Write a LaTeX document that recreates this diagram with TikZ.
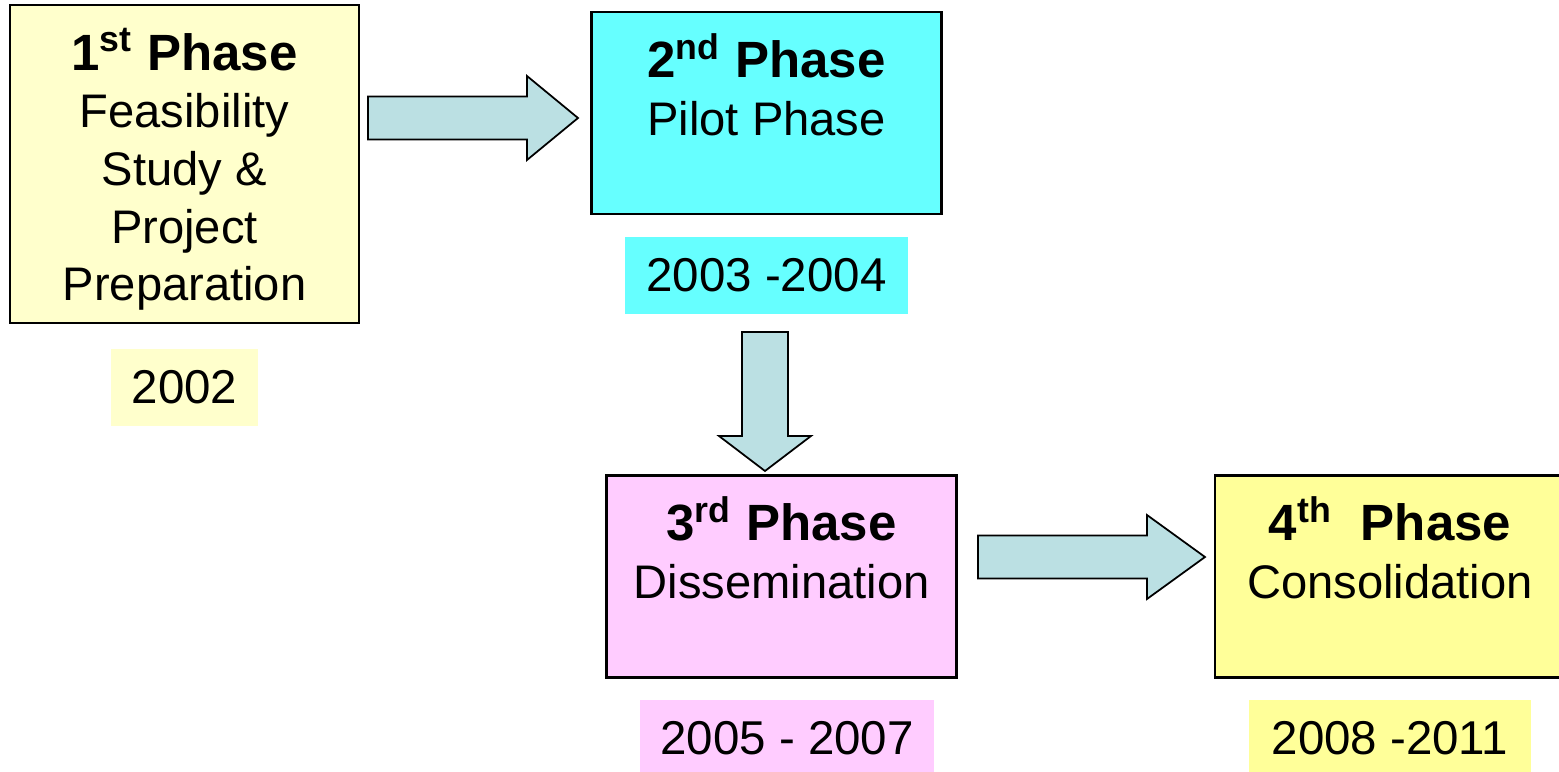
\documentclass[tikz,border=0pt]{standalone}
\usepackage{fontspec}
\setmainfont{Liberation Sans}
\usetikzlibrary{positioning,calc}
\definecolor{paleyellow}{HTML}{FFFFCC}
\definecolor{aqua}{HTML}{66FFFF}
\definecolor{phasepink}{HTML}{FFCCFF}
\definecolor{lemon}{HTML}{FFFF99}
\definecolor{arrowblue}{HTML}{BBE0E3}
\newcommand{\phasefont}{\fontsize{14.5}{16.4}\selectfont\bfseries}
\tikzset{
    phase/.style={
           rectangle,
           draw=black, line width=0.7pt,
           minimum width=3.5cm,
           minimum height=2.02cm,
           align=center,
           inner sep=0pt,
           font=\fontsize{13.4}{16.4}\selectfont
           },
    years/.style={
           rectangle,
           minimum height=0.77cm,
           inner sep=0pt,
           font=\fontsize{13.5}{16}\selectfont
           },
    fatarrow/.style={
           draw=black, line width=0.5pt,
           fill=arrowblue,
           line join=miter
           }
}
\begin{document}
\begin{tikzpicture}[x=0.01cm, y=-0.01cm]
   \useasboundingbox (0,0) rectangle (1559,772);
   % phases
   \node[phase, fill=paleyellow, minimum width=3.49cm, minimum height=3.18cm] (p1) at (184.5,164)
        {{\phasefont\rule{0pt}{15pt}1\textsuperscript{st} Phase}\\ Feasibility\\ Study \&\\ Project\\ Preparation};
   \node[phase, fill=aqua]       (p2) at (766.5,113)
        {{\phasefont 2\textsuperscript{nd} Phase}\\ Pilot Phase\\ \mbox{}};
   \node[phase, fill=phasepink]  (p3) at (781.5,576.5)
        {{\phasefont 3\textsuperscript{rd} Phase}\\ Dissemination\\ \mbox{}};
   \node[phase, fill=lemon]      (p4) at (1390,576.5)
        {{\phasefont 4\textsuperscript{th}\ \ Phase}\\ Consolidation\\ \mbox{}};
   % years
   \node[years, fill=paleyellow, minimum width=1.46cm, below=0.24cm of p1] (y1) {2002};
   \node[years, fill=aqua,       minimum width=2.82cm, below=0.21cm of p2] (y2) {2003 -2004};
   \node[years, fill=phasepink,  minimum width=2.94cm, below=0.2cm of p3, xshift=0.055cm] (y3) {2005 - 2007};
   \node[years, fill=lemon,      minimum width=2.82cm, below=0.2cm of p4] (y4) {2008 -2011};
   % block arrows
   \coordinate (a1s) at (368,118);
   \coordinate (a1e) at (578,118);
   \coordinate (a2s) at (765,332);
   \coordinate (a2e) at (765,471);
   \coordinate (a3s) at (978,557);
   \coordinate (a3e) at (1205,557);
   \draw[fatarrow] ($(a1s)+(0,-21.5)$) -- ($(a1e)+(-51,-21.5)$) -- ($(a1e)+(-51,-42)$) -- (a1e)
        -- ($(a1e)+(-51,42)$) -- ($(a1e)+(-51,21.5)$) -- ($(a1s)+(0,21.5)$) -- cycle;
   \draw[fatarrow] ($(a2s)+(-23,0)$) -- ($(a2e)+(-23,-35)$) -- ($(a2e)+(-46,-35)$) -- (a2e)
        -- ($(a2e)+(46,-35)$) -- ($(a2e)+(23,-35)$) -- ($(a2s)+(23,0)$) -- cycle;
   \draw[fatarrow] ($(a3s)+(0,-21.5)$) -- ($(a3e)+(-58,-21.5)$) -- ($(a3e)+(-58,-42)$) -- (a3e)
        -- ($(a3e)+(-58,42)$) -- ($(a3e)+(-58,21.5)$) -- ($(a3s)+(0,21.5)$) -- cycle;
\end{tikzpicture}
\end{document}
